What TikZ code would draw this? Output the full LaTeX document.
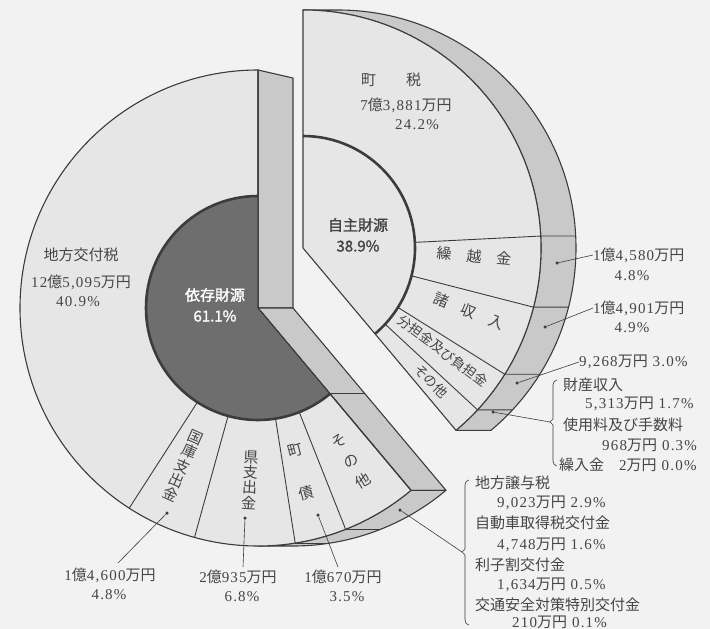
\documentclass[tikz,border=0pt]{standalone}
\usepackage{fontspec}
\setmainfont{Liberation Serif}[LetterSpace=8]
\newfontfamily\jp{Noto Sans CJK JP}
\newfontfamily\jpb{Noto Sans CJK JP}[FakeBold=1.5]
\newcommand\jk[1]{{\jp #1}}
\usetikzlibrary{calc}
\definecolor{bgc}{HTML}{F2F2F2}
\definecolor{frontc}{HTML}{E6E6E6}
\definecolor{bandc}{HTML}{C9C9C9}
\definecolor{darkc}{HTML}{6E6E6E}
\definecolor{linec}{HTML}{3C3C3C}
\definecolor{txtc}{HTML}{454545}
\begin{document}
\begin{tikzpicture}[x=1pt,y=1pt,
  outl/.style={draw=linec, line width=1.1pt, line join=round},
  front/.style={outl, fill=frontc},
  band/.style={outl, fill=bandc},
  seg/.style={draw=linec, line width=0.9pt},
  thickarc/.style={draw=linec, line width=2.6pt},
  lbl/.style={font=\fontsize{15}{17}\selectfont, text=txtc, inner sep=0pt},
  jlbl/.style={font=\jp\fontsize{15}{17}\selectfont, text=txtc, inner sep=0pt},
  jsml/.style={font=\jp\fontsize{13.5}{15}\selectfont, text=txtc, inner sep=0pt},
  blbl/.style={font=\jpb\fontsize{15}{17}\selectfont, inner sep=0pt},
  vtext/.style={font=\jp\fontsize{15}{15.5}\selectfont, text=txtc, inner sep=0pt, align=center},
  dot/.style={circle, fill=linec, inner sep=0pt, minimum size=3.5pt},
  call/.style={draw=linec, line width=0.6pt},
]
\useasboundingbox (0,0) rectangle (710,-629);
\fill[bgc] (0,0) rectangle (710,-629);

\coordinate (CL) at (258,-308);
\coordinate (CR) at (303,-248);

% ---------- left piece: side faces ----------
\path[band] (CL) -- ($(CL)+(90:238)$) -- ++(35,-8) -- ($(CL)+(35,0)$) -- cycle;
\path[band] (CL) -- ($(CL)+(310:238)$) -- ++(35,0) -- ($(CL)+(35,0)$) -- cycle;
\path[band] ($(CL)+(270:238)$) arc[start angle=270,end angle=310,radius=238] -- ++(35,0) arc[start angle=310,end angle=270,radius=238] -- cycle;
\draw[seg] ($(CL)+(310:112)$) -- ++(35,0);
\foreach \a in {279,291.6} \draw[seg] ($(CL)+(\a:238)$) -- ++(35,0);

% ---------- left piece: front ----------
\path[front] (CL) -- ($(CL)+(90:238)$) arc[start angle=90,end angle=310,radius=238] -- cycle;
\fill[darkc] (CL) -- ($(CL)+(90:112)$) arc[start angle=90,end angle=310,radius=112] -- cycle;
\draw[thickarc] ($(CL)+(90:112)$) arc[start angle=90,end angle=310,radius=112];
\draw[outl] ($(CL)+(90:238)$) -- (CL) -- ($(CL)+(310:238)$);
\foreach \a in {237.24,254.52,279,291.6} \draw[seg] ($(CL)+(\a:112)$) -- ($(CL)+(\a:238)$);

% ---------- right piece ----------
\path[band] ($(CR)+(90:238)$) arc[start angle=90,end angle=-50,radius=238] -- ++(35,0) arc[start angle=-50,end angle=90,radius=238] -- cycle;
\path[front] (CR) -- ($(CR)+(90:238)$) arc[start angle=90,end angle=-50,radius=238] -- cycle;
\draw[thickarc] ($(CR)+(90:112)$) arc[start angle=90,end angle=-50,radius=112];
\foreach \a in {2.88,-14.4,-32.04,-42.84} \draw[seg] ($(CR)+(\a:112)$) -- ($(CR)+(\a:238)$) -- ++(35,0);

% ---------- texts inside ----------
\node[jlbl] (tzei) at (391,-80) {町　　税};
\node[lbl] (tzeiv) at (406,-105) {7\jk{億}3,881\jk{万円}};
\node[lbl] (tzeip) at (417,-125) {24.2\%};
\node[blbl, text=txtc] (jishu) at (358,-225) {自主財源};
\node[blbl, text=txtc] (jishup) at (358,-246) {38.9\%};
\node[blbl, text=white] (izon) at (215,-295) {依存財源};
\node[blbl, text=white] (izonp) at (215,-316) {61.1\%};
\node[jlbl] (chiho) at (81,-255) {地方交付税};
\node[lbl] (chihov) at (81,-282) {12\jk{億}5,095\jk{万円}};
\node[lbl] (chihop) at (78,-302) {40.9\%};

\node[jlbl, rotate=-5] (kuri) at (474,-256) {繰　越　金};
\node[jlbl, rotate=-22] (shosh) at (469,-311) {諸　収　入};
\node[jsml, rotate=-37] (bunt) at (443,-351) {分担金及び負担金};
\node[jsml, rotate=-46] (sonoR) at (431,-381) {その他};

\node[vtext, rotate=-24] (kokko) at (183,-466) {国\\庫\\支\\出\\金};
\node[vtext, rotate=-3] (ken) at (250,-480) {県\\支\\出\\金};
\node[vtext, rotate=15] (chosai) at (301,-472) {町\\[29pt]債};
\node[vtext, rotate=31] (sonoL) at (351,-461) {そ\\[8pt]の\\[8pt]他};

% ---------- right callouts ----------
\node[dot] (d1) at (557,-263) {};
\node[lbl, anchor=west] (v1) at (593,-255) {1\jk{億}4,580\jk{万円}};
\node[lbl] (p1) at (632,-276) {4.8\%};
\draw[call] (d1) -- (v1.west);

\node[dot] (d2) at (545,-327) {};
\node[lbl, anchor=west] (v2) at (593,-308) {1\jk{億}4,901\jk{万円}};
\node[lbl] (p2) at (632,-328) {4.9\%};
\draw[call] (d2) -- (v2.west);

\node[dot] (d3) at (517,-383) {};
\node[lbl, anchor=west] (v3) at (579,-362) {9,268\jk{万円} 3.0\%};
\draw[call] (d3) -- (v3.west);

\node[dot] (d4) at (493,-412) {};
\coordinate (b1) at (550,-422);
\draw[call] (d4) -- (b1);
\draw[call] (557,-380) to[out=180,in=90] (553,-385) -- (553,-419) -- (b1) -- (553,-425) -- (553,-461) to[out=-90,in=180] (557,-466);
\node[jlbl, anchor=west] (r1) at (563,-385) {財産収入};
\node[lbl, anchor=west] (r2) at (585,-404) {5,313\jk{万円} 1.7\%};
\node[jlbl, anchor=west] (r3) at (563,-425) {使用料及び手数料};
\node[lbl, anchor=west] (r4) at (602,-445) {968\jk{万円} 0.3\%};
\node[lbl, anchor=west] (r5) at (559,-465) {\jk{繰入金　}2\jk{万円} 0.0\%};

% ---------- lower-right callout ----------
\node[dot] (d5) at (400,-510) {};
\coordinate (b2) at (462,-552);
\draw[call] (d5) -- (b2);
\draw[call] (469,-480) to[out=180,in=90] (465,-485) -- (465,-549) -- (b2) -- (465,-555) -- (465,-620) to[out=-90,in=180] (469,-625);
\node[jlbl, anchor=west] (s1) at (475,-483) {地方譲与税};
\node[lbl, anchor=west] (s2) at (497,-503) {9,023\jk{万円} 2.9\%};
\node[jlbl, anchor=west] (s3) at (475,-523) {自動車取得税交付金};
\node[lbl, anchor=west] (s4) at (497,-545) {4,748\jk{万円} 1.6\%};
\node[jlbl, anchor=west] (s5) at (475,-565) {利子割交付金};
\node[lbl, anchor=west] (s6) at (497,-585) {1,634\jk{万円} 0.5\%};
\node[jlbl, anchor=west] (s7) at (475,-605) {交通安全対策特別交付金};
\node[lbl, anchor=west] (s8) at (512,-622) {210\jk{万円} 0.1\%};

% ---------- bottom callouts ----------
\node[dot] (d6) at (167,-513) {};
\node[lbl] (u1) at (110,-575) {1\jk{億}4,600\jk{万円}};
\node[lbl] (u1p) at (109,-595) {4.8\%};
\coordinate (e6) at (118,-563);
\draw[call] (d6) -- (e6);

\node[dot] (d7) at (245,-518) {};
\node[lbl] (u2) at (238,-577) {2\jk{億}935\jk{万円}};
\node[lbl] (u2p) at (242,-597) {6.8\%};
\coordinate (e7) at (243,-567);
\draw[call] (d7) -- (e7);

\node[dot] (d8) at (318,-515) {};
\node[lbl] (u3) at (343,-577) {1\jk{億}670\jk{万円}};
\node[lbl] (u3p) at (347,-597) {3.5\%};
\coordinate (e8) at (338,-567);
\draw[call] (d8) -- (e8);
\end{tikzpicture}
\end{document}
